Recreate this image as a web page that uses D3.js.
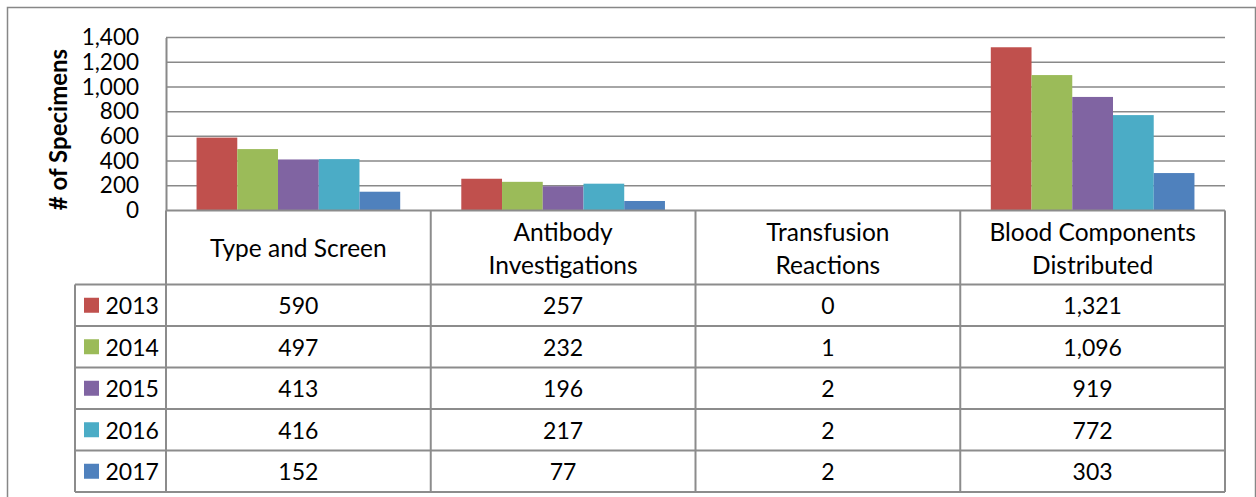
<!DOCTYPE html>
<html><head><meta charset="utf-8">
<script src="https://cdn.jsdelivr.net/npm/d3@7"></script>
<style>
html,body{margin:0;padding:0;background:#fff;}
svg{display:block;font-family:Lato, "Open Sans", sans-serif;}
</style></head>
<body>
<svg id="chart" width="1256" height="497"></svg>
<script>
// ---- data ----
const categories = ["Type and Screen", "Antibody Investigations", "Transfusion Reactions", "Blood Components Distributed"];
const categoryLines = [["Type and Screen"], ["Antibody", "Investigations"], ["Transfusion", "Reactions"], ["Blood Components", "Distributed"]];
const years = ["2013", "2014", "2015", "2016", "2017"];
const v2013 = [590, 257, 0, 1321];
const v2014 = [497, 232, 1, 1096];
const v2015 = [413, 196, 2, 919];
const v2016 = [416, 217, 2, 772];
const v2017 = [152, 77, 2, 303];
const seriesValues = [v2013, v2014, v2015, v2016, v2017];
const colors = ["#C0504D", "#9BBB59", "#8064A2", "#4BACC6", "#4F81BD"];
const yTicks = [0, 200, 400, 600, 800, 1000, 1200, 1400];
const yTitle = "# of Specimens";

// ---- layout ----
const svg = d3.select("#chart");
const plotL = 166, plotR = 1225, plotT = 37.5, plotB = 210.5;
const headerB = 284.5, rowH = 41.5, legendL = 75;
const gridColor = "#898989", tableColor = "#8c8c8c";
const numSize = 23, txtSize = 24.5;

const x0 = d3.scaleBand().domain(categories).range([plotL, plotR]).padding(0);
const bw = x0.bandwidth();
const w = bw / 6.5;
const x1 = d3.scaleBand().domain(years).range([0.75 * w, 5.75 * w]).padding(0);
const y = d3.scaleLinear().domain([0, 1400]).range([plotB, plotT]);
const fmt = d3.format(",");

// outer border
svg.append("path")
  .attr("d", `M7.5,${497 + 5} L7.5,7.5 L1255.5,7.5 L1255.5,${497 + 5}`)
  .attr("fill", "none").attr("stroke", "#878787").attr("stroke-width", 1.5);

// gridlines
svg.append("g").selectAll("line").data(yTicks.filter(d => d > 0)).join("line")
  .attr("x1", plotL).attr("x2", plotR)
  .attr("y1", d => y(d)).attr("y2", d => y(d))
  .attr("stroke", gridColor).attr("stroke-width", 1.5);

// y axis via d3 axis
const yAxis = svg.append("g").attr("transform", `translate(${plotL},0)`)
  .call(d3.axisLeft(y).tickValues(yTicks).tickFormat(fmt).tickSize(0).tickPadding(27));
yAxis.select(".domain").attr("stroke", gridColor).attr("stroke-width", 2);
yAxis.selectAll("text").attr("font-size", 22.5).attr("fill", "#000").attr("font-family", "Lato, sans-serif");

// y title
svg.append("text")
  .attr("transform", `translate(57,${(plotT + plotB) / 2 + 5.5}) rotate(-90)`)
  .attr("text-anchor", "middle").attr("dominant-baseline", "central")
  .attr("font-size", 24).attr("font-weight", "bold").attr("fill", "#000")
  .text(yTitle);

// bars
years.forEach((yr, si) => {
  svg.append("g").selectAll("rect").data(categories).join("rect")
    .attr("x", (c) => x0(c) + x1(yr))
    .attr("width", x1.bandwidth())
    .attr("y", (c, i) => y(seriesValues[si][i]))
    .attr("height", (c, i) => y(0) - y(seriesValues[si][i]))
    .attr("fill", colors[si]);
});

// table lines
const tbl = svg.append("g").attr("stroke", tableColor).attr("stroke-width", 2).attr("fill", "none");
const tableBottom = headerB + rowH * years.length;
tbl.append("line").attr("x1", plotL).attr("x2", plotR).attr("y1", plotB).attr("y2", plotB);
const bounds = categories.map(c => x0(c)).concat([plotR]);
tbl.selectAll(".v").data(bounds).join("line")
  .attr("x1", d => d).attr("x2", d => d).attr("y1", plotB).attr("y2", tableBottom);
tbl.append("line").attr("x1", legendL).attr("x2", legendL).attr("y1", headerB).attr("y2", tableBottom);
tbl.selectAll(".h").data(d3.range(years.length + 1)).join("line")
  .attr("x1", legendL).attr("x2", plotR)
  .attr("y1", i => headerB + i * rowH).attr("y2", i => headerB + i * rowH);

// header texts
const hdr = svg.append("g").attr("font-size", txtSize).attr("fill", "#000").attr("text-anchor", "middle");
categories.forEach((c, i) => {
  const lines = categoryLines[i];
  const cx = x0(c) + bw / 2;
  const cy = (plotB + headerB) / 2;
  const lh = 33;
  lines.forEach((ln, j) => {
    hdr.append("text").attr("x", cx).attr("y", cy + (j - (lines.length - 1) / 2) * lh)
      .attr("dominant-baseline", "central").text(ln);
  });
});

// rows
years.forEach((yr, si) => {
  const cy = headerB + si * rowH + rowH / 2;
  svg.append("rect").attr("x", 84).attr("y", cy - 7.5).attr("width", 15).attr("height", 15).attr("fill", colors[si]);
  svg.append("text").attr("x", 105.5).attr("y", cy).attr("dominant-baseline", "central")
    .attr("font-size", numSize).attr("fill", "#000").text(yr);
  svg.append("g").selectAll("text").data(categories).join("text")
    .attr("x", c => x0(c) + bw / 2).attr("y", cy)
    .attr("text-anchor", "middle").attr("dominant-baseline", "central")
    .attr("font-size", numSize).attr("fill", "#000")
    .text((c, i) => fmt(seriesValues[si][i]));
});
</script>
</body></html>
